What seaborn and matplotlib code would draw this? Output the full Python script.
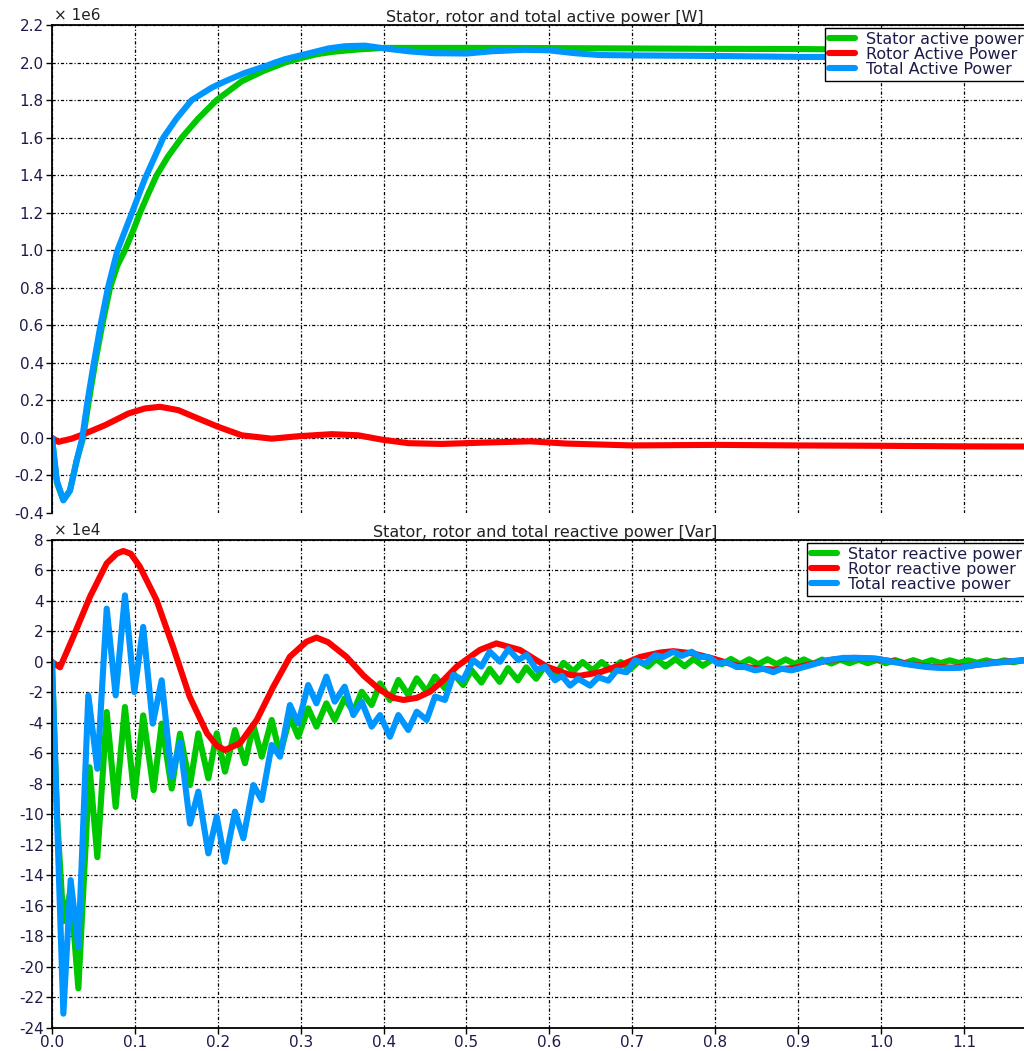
import numpy as np
import pandas as pd
import matplotlib
matplotlib.use("Agg")
import matplotlib.pyplot as plt
import seaborn as sns

# ---------------- data: active power (x 1e6 W) ----------------
t_p_stator = [0.0, 0.006, 0.0137, 0.0217, 0.0298, 0.0375, 0.0445, 0.052, 0.0605, 0.070, 0.079, 0.088,
              0.0975, 0.1062, 0.1160, 0.1263, 0.1400, 0.1565, 0.1760, 0.1986, 0.2288, 0.2550, 0.2811,
              0.3012, 0.3200, 0.3400, 0.3700, 0.4017, 0.5, 0.6, 0.7, 0.8, 0.9, 1.0, 1.1, 1.19]
p_stator = [0.0, -0.24, -0.33, -0.28, -0.12, 0.0, 0.2, 0.4, 0.6, 0.8, 0.92, 1.0,
            1.1, 1.2, 1.3, 1.4, 1.5, 1.6, 1.7, 1.8, 1.9, 1.955, 2.0,
            2.025, 2.045, 2.058, 2.07, 2.078, 2.078, 2.077, 2.075, 2.073, 2.072, 2.068, 2.066, 2.065]

t_p_rotor = [0.0, 0.0077, 0.0237, 0.0398, 0.064, 0.0921, 0.112, 0.1303, 0.1524, 0.1765, 0.2006,
             0.2288, 0.265, 0.2971, 0.3373, 0.3695, 0.3976, 0.43, 0.47, 0.52, 0.577, 0.62, 0.7,
             0.8, 0.9, 1.0, 1.1, 1.19]
p_rotor = [0.0, -0.021, -0.004, 0.023, 0.068, 0.13, 0.157, 0.166, 0.148, 0.103, 0.059,
           0.014, -0.004, 0.009, 0.02, 0.014, -0.009, -0.028, -0.032, -0.025, -0.018, -0.03, -0.04,
           -0.037, -0.04, -0.042, -0.045, -0.046]

t_p_total = [0.0, 0.0057, 0.0137, 0.0217, 0.0298, 0.0365, 0.043, 0.0505, 0.0585, 0.0675, 0.0790,
             0.0965, 0.1120, 0.1343, 0.1500, 0.1685, 0.1926, 0.2087, 0.2328, 0.257, 0.269, 0.2811,
             0.3052, 0.3333, 0.3534, 0.3775, 0.4017, 0.43, 0.46, 0.5, 0.53, 0.57, 0.6, 0.63, 0.66,
             0.7, 0.8, 0.9, 1.0, 1.1, 1.19]
p_total = [0.0, -0.226, -0.333, -0.28, -0.12, 0.0, 0.2, 0.4, 0.6, 0.8, 1.0,
           1.2, 1.38, 1.6, 1.7, 1.8, 1.866, 1.90, 1.945, 1.98, 2.0, 2.018,
           2.044, 2.075, 2.087, 2.09, 2.075, 2.06, 2.05, 2.048, 2.06, 2.068, 2.065, 2.05, 2.04,
           2.038, 2.035, 2.03, 2.028, 2.03, 2.03]

# ---------------- data: reactive power (x 1e4 Var) ----------------
t_q_stator = [0.0, 0.006, 0.0137, 0.0225, 0.0318, 0.0453, 0.0547, 0.066, 0.0768, 0.088, 0.0993, 0.110,
              0.1225, 0.1323, 0.1444, 0.1544, 0.1665, 0.1765, 0.1886, 0.1987, 0.2087, 0.2207, 0.2328,
              0.2429, 0.253, 0.265, 0.275, 0.287, 0.297, 0.309, 0.319, 0.331, 0.341, 0.353, 0.3635,
              0.3736, 0.3856, 0.3957, 0.4077, 0.4178, 0.4298, 0.44, 0.452, 0.462, 0.474, 0.484, 0.496,
              0.506, 0.518, 0.528, 0.540, 0.550, 0.562, 0.572, 0.584, 0.594, 0.606, 0.617, 0.629,
              0.640, 0.652, 0.663, 0.675, 0.686, 0.697, 0.708, 0.719, 0.729, 0.740, 0.752, 0.763,
              0.774, 0.785, 0.797, 0.808, 0.819, 0.830, 0.841, 0.852, 0.863, 0.874, 0.885, 0.896,
              0.907, 0.918, 0.929, 0.940, 0.951, 0.962, 0.973, 0.984, 0.995, 1.006, 1.017, 1.028,
              1.039, 1.050, 1.061, 1.072, 1.083, 1.094, 1.105, 1.116, 1.127, 1.138, 1.149, 1.160,
              1.171, 1.19]
q_stator = [0.0, -10.0, -17.0, -15.0, -21.4, -6.9, -12.8, -3.28, -9.5, -2.95, -8.85, -3.5,
            -8.4, -4.04, -8.3, -4.7, -8.07, -4.68, -7.63, -4.68, -7.19, -4.46, -6.64,
            -4.13, -6.21, -3.8, -6.1, -3.58, -4.9, -3.04, -4.24, -2.71, -3.8, -2.38, -3.26,
            -1.95, -2.82, -1.4, -2.49, -1.18, -2.16, -1.07, -1.95, -0.96, -1.73, -0.74, -1.51,
            -0.53, -1.35, -0.45, -1.3, -0.4, -1.2, -0.35, -1.1, -0.3, -0.95, -0.05, -0.6,
            0.0, -0.55, 0.0, -0.55, 0.0, -0.5, 0.05, -0.3, 0.22, -0.3, 0.2, -0.28,
            0.2, -0.25, 0.18, -0.15, 0.2, -0.15, 0.18, -0.15, 0.18, -0.14, 0.17, -0.13,
            0.17, -0.12, 0.16, -0.1, 0.16, -0.08, 0.15, -0.08, 0.14, -0.08, 0.13, -0.08,
            0.12, -0.08, 0.12, -0.07, 0.11, -0.06, 0.11, -0.05, 0.11, -0.04, 0.11, -0.02,
            0.12, 0.05]

t_q_rotor = [0.0, 0.0097, 0.0257, 0.0458, 0.066, 0.078, 0.086, 0.095, 0.106, 0.126, 0.146, 0.166,
             0.187, 0.199, 0.2087, 0.2268, 0.247, 0.267, 0.287, 0.307, 0.319, 0.333, 0.355, 0.376,
             0.396, 0.412, 0.424, 0.44, 0.456, 0.472, 0.488, 0.516, 0.536, 0.5645, 0.597, 0.625,
             0.637, 0.6611, 0.6852, 0.7093, 0.7335, 0.7495, 0.7737, 0.7978, 0.822, 0.8461, 0.8701,
             0.8943, 0.9184, 0.9425, 0.9667, 0.9908, 1.0149, 1.039, 1.0632, 1.0873, 1.1114, 1.1355,
             1.1718, 1.19]
q_rotor = [0.0, -0.35, 1.66, 4.28, 6.47, 7.1, 7.28, 7.1, 6.25, 4.07, 1.0, -2.27,
           -4.68, -5.5, -5.77, -5.33, -3.8, -1.62, 0.35, 1.33, 1.6, 1.3, 0.35, -0.9,
           -1.84, -2.35, -2.49, -2.35, -1.95, -1.2, -0.31, 0.79, 1.22, 0.79, -0.31, -0.85,
           -0.9, -0.67, -0.22, 0.33, 0.62, 0.71, 0.56, 0.22, -0.18, -0.4, -0.49,
           -0.4, -0.11, 0.16, 0.27, 0.22, 0.04, -0.18, -0.33, -0.38, -0.22, -0.04,
           0.11, 0.15]

t_q_total = [0.0, 0.0137, 0.0225, 0.0318, 0.0438, 0.0547, 0.066, 0.0768, 0.088, 0.0993, 0.110,
             0.1215, 0.1323, 0.1444, 0.1544, 0.1665, 0.1765, 0.1886, 0.1987, 0.2087, 0.2207, 0.2308,
             0.2429, 0.253, 0.265, 0.275, 0.287, 0.297, 0.309, 0.319, 0.331, 0.341, 0.353, 0.3635,
             0.3736, 0.3856, 0.3957, 0.4077, 0.4178, 0.4298, 0.44, 0.452, 0.462, 0.474, 0.484, 0.496,
             0.508, 0.518, 0.528, 0.5405, 0.5505, 0.5625, 0.5726, 0.5846, 0.5947, 0.6068, 0.615,
             0.6249, 0.6349, 0.649, 0.659, 0.6711, 0.6812, 0.6932, 0.7033, 0.7153, 0.7274, 0.7374,
             0.7495, 0.7596, 0.7717, 0.7817, 0.7917, 0.8038, 0.8138, 0.8259, 0.8359, 0.848, 0.858,
             0.8701, 0.8801, 0.8922, 0.9144, 0.9344, 0.9546, 0.9746, 0.9948, 1.0149, 1.035, 1.0552,
             1.0753, 1.0955, 1.1154, 1.1355, 1.1557, 1.1718, 1.19]
q_total = [0.0, -23.06, -14.3, -18.7, -2.19, -7.0, 3.5, -2.19, 4.37, -1.97, 2.30,
           -4.04, -1.2, -7.54, -5.25, -10.6, -8.5, -12.55, -10.14, -13.1, -9.81, -11.56,
           -8.07, -9.05, -5.44, -6.21, -2.82, -4.02, -1.51, -2.71, -0.96, -2.6, -1.62, -3.48,
           -2.6, -4.24, -3.48, -4.9, -3.48, -4.46, -3.26, -3.8, -2.27, -2.49, -0.85, -1.18,
           0.13, -0.3, 0.68, 0.02, 0.85, 0.13, 0.46, -0.52, -0.31, -1.2, -0.9,
           -1.55, -1.1, -1.55, -1.0, -1.22, -0.55, -0.67, 0.11, -0.11, 0.44, 0.33,
           0.67, 0.4, 0.67, 0.33, 0.33, -0.11, 0.0, -0.33, -0.33, -0.55, -0.44,
           -0.67, -0.44, -0.55, -0.22, 0.11, 0.27, 0.27, 0.22, 0.0, -0.18, -0.33,
           -0.4, -0.38, -0.18, -0.07, 0.04, 0.11, 0.15]

active_names = ["Stator active power", "Rotor Active Power", "Total Active Power"]
reactive_names = ["Stator reactive power", "Rotor reactive power", "Total reactive power"]
series_colors = ["#00c800", "#ff0000", "#0096ff"]

x_ticks = [0.0, 0.1, 0.2, 0.3, 0.4, 0.5, 0.6, 0.7, 0.8, 0.9, 1.0, 1.1]
p_ticks = [-0.4, -0.2, 0.0, 0.2, 0.4, 0.6, 0.8, 1.0, 1.2, 1.4, 1.6, 1.8, 2.0, 2.2]
q_ticks = [-24, -22, -20, -18, -16, -14, -12, -10, -8, -6, -4, -2, 0, 2, 4, 6, 8]

# ---------------- plotting ----------------
sns.set_style("white")
plt.rcParams["font.family"] = ["DejaVu Sans"]

label_color = "#1c1c48"
fig = plt.figure(figsize=(10.24, 10.51), dpi=100)
ax1 = fig.add_axes([0.05078, 0.51189, 0.96289, 0.46432])
ax2 = fig.add_axes([0.05078, 0.021884, 0.96289, 0.46432])


def draw(ax, names, ts, vs, legend_x):
    frames = [pd.DataFrame({"t": t, "v": v, "s": n}) for n, t, v in zip(names, ts, vs)]
    df = pd.concat(frames, ignore_index=True)
    sns.lineplot(data=df, x="t", y="v", hue="s", hue_order=names,
                 palette=dict(zip(names, series_colors)), estimator=None, sort=False,
                 linewidth=4.4, ax=ax, legend=False, solid_capstyle="round",
                 solid_joinstyle="round")
    ax.set_xlabel("")
    ax.set_ylabel("")
    ax.set_xlim(0, 1.1894)
    ax.set_xticks(x_ticks)
    ax.grid(True, color="black", linestyle=(0, (2.6, 1.6, 0.9, 1.6)), linewidth=0.9)
    ax.set_axisbelow(True)
    for side in ["left", "top", "bottom"]:
        ax.spines[side].set_color("black")
        ax.spines[side].set_linewidth(1.3)
    ax.spines["right"].set_visible(False)
    ax.tick_params(axis="both", labelsize=11, labelcolor=label_color, color="black",
                   length=4, width=1, direction="out", left=True, bottom=True, pad=2)
    handles = ax.get_lines()[:3]
    leg = ax.legend(handles=handles, labels=names, loc="upper left",
                    bbox_to_anchor=(legend_x, 0.994),
                    borderaxespad=0, frameon=True, fancybox=False, edgecolor="black",
                    framealpha=1, fontsize=11.5, handlelength=1.6, handletextpad=0.7,
                    labelspacing=0.0, borderpad=0.25)
    leg.get_frame().set_linewidth(1.0)
    for txt in leg.get_texts():
        txt.set_color(label_color)


draw(ax1, active_names, [t_p_stator, t_p_rotor, t_p_total], [p_stator, p_rotor, p_total], 0.784)
draw(ax2, reactive_names, [t_q_stator, t_q_rotor, t_q_total], [q_stator, q_rotor, q_total], 0.766)

ax1.set_ylim(-0.4, 2.2)
ax1.set_yticks(p_ticks)
ax1.set_yticklabels([f"{v:.1f}" for v in p_ticks])
ax1.tick_params(axis="x", labelbottom=False, length=0)
ax1.spines["bottom"].set_visible(False)
ax1.yaxis.get_major_ticks()[0].gridline.set_visible(False)

ax2.set_ylim(-24, 8)
ax2.set_yticks(q_ticks)
ax2.set_yticklabels([f"{v:d}" for v in q_ticks])
ax2.set_xticklabels([f"{v:.1f}" for v in x_ticks])
ax2.tick_params(axis="x", pad=1)

ax1.set_title("Stator, rotor and total active power [W]", fontsize=11.5, pad=2, color="#222222")
ax2.set_title("Stator, rotor and total reactive power [Var]", fontsize=11.5, pad=2, color="#222222")
ax1.text(0.002, 1.004, "\u00d7 1e6", transform=ax1.transAxes, fontsize=11,
         ha="left", va="bottom", color="#222222")
ax2.text(0.002, 1.004, "\u00d7 1e4", transform=ax2.transAxes, fontsize=11,
         ha="left", va="bottom", color="#222222")

fig.savefig("out.png", dpi=100)
